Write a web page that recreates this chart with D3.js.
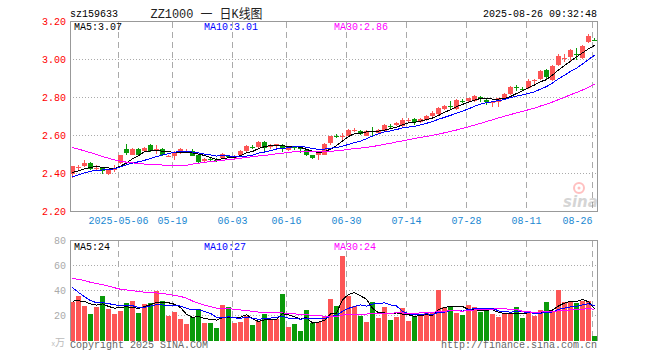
<!DOCTYPE html>
<html><head><meta charset="utf-8">
<script src="https://cdn.jsdelivr.net/npm/d3@7/dist/d3.min.js"></script>
<style>
html,body{margin:0;padding:0;background:#fff;}
svg{display:block;}
text{font-family:"Liberation Mono","DejaVu Sans Mono",monospace;}
</style></head>
<body><svg id="c" width="660" height="360"></svg>
<script>
// ---------- data ----------
const dates = [
"04-21","04-22","04-23","04-24","04-25","04-28","04-29","04-30",
"05-06","05-07","05-08","05-09","05-12","05-13","05-14","05-15","05-16","05-19","05-20","05-21","05-22","05-23","05-26","05-27","05-28","05-29","05-30",
"06-03","06-04","06-05","06-06","06-09","06-10","06-11","06-12","06-13","06-16","06-17","06-18","06-19","06-20","06-23","06-24","06-25","06-26","06-27","06-30",
"07-01","07-02","07-03","07-04","07-07","07-08","07-09","07-10","07-11","07-14","07-15","07-16","07-17","07-18","07-21","07-22","07-23","07-24","07-25","07-28","07-29","07-30","07-31",
"08-01","08-04","08-05","08-06","08-07","08-08","08-11","08-12","08-13","08-14","08-15","08-18","08-19","08-20","08-21","08-22","08-25","08-26"];
const openP = [2.40,2.432,2.44,2.455,2.428,2.43,2.40,2.42,2.455,2.53,2.50,2.53,2.52,2.55,2.528,2.53,2.488,2.49,2.51,2.515,2.52,2.495,2.465,2.477,2.472,2.48,2.492,2.483,2.495,2.52,
2.542,2.54,2.565,2.538,2.545,2.55,2.525,2.537,2.532,2.525,2.495,2.495,2.50,2.56,2.597,2.595,2.60,2.628,2.625,2.60,2.622,2.615,2.625,2.652,2.655,2.65,2.678,2.685,2.67,2.68,
2.705,2.715,2.74,2.757,2.74,2.782,2.78,2.78,2.802,2.785,2.773,2.775,2.80,2.82,2.857,2.847,2.85,2.888,2.895,2.945,2.89,2.97,3.008,3.015,3.03,3.01,3.09,3.105];
const highP = [2.44,2.445,2.47,2.46,2.445,2.435,2.425,2.445,2.50,2.555,2.535,2.535,2.54,2.555,2.55,2.535,2.50,2.52,2.535,2.53,2.53,2.50,2.48,2.485,2.48,2.51,2.50,2.50,2.525,2.55,
2.55,2.57,2.57,2.555,2.555,2.555,2.54,2.54,2.535,2.53,2.50,2.515,2.56,2.60,2.61,2.615,2.635,2.64,2.63,2.63,2.645,2.635,2.66,2.66,2.67,2.69,2.69,2.69,2.69,2.71,
2.73,2.75,2.76,2.78,2.79,2.79,2.80,2.815,2.81,2.80,2.78,2.80,2.825,2.86,2.865,2.855,2.895,2.90,2.945,2.95,2.97,3.03,3.03,3.055,3.06,3.075,3.135,3.115];
const lowP = [2.375,2.42,2.435,2.42,2.415,2.40,2.39,2.41,2.45,2.495,2.495,2.49,2.515,2.515,2.505,2.49,2.485,2.47,2.505,2.51,2.49,2.455,2.46,2.465,2.46,2.475,2.48,2.47,2.49,2.515,
2.53,2.535,2.515,2.53,2.53,2.515,2.52,2.525,2.51,2.49,2.475,2.47,2.495,2.55,2.585,2.575,2.595,2.62,2.605,2.595,2.60,2.61,2.62,2.64,2.65,2.645,2.67,2.655,2.665,2.675,
2.70,2.71,2.735,2.735,2.735,2.77,2.775,2.775,2.775,2.76,2.75,2.75,2.795,2.815,2.835,2.835,2.845,2.87,2.89,2.90,2.885,2.965,2.985,2.99,3.00,3.005,3.085,3.095];
const closeP = [2.44,2.435,2.455,2.425,2.43,2.415,2.42,2.43,2.50,2.51,2.53,2.50,2.535,2.52,2.53,2.50,2.49,2.51,2.53,2.52,2.49,2.46,2.475,2.475,2.47,2.505,2.49,2.485,2.52,2.545,
2.54,2.565,2.535,2.55,2.555,2.53,2.54,2.535,2.53,2.50,2.48,2.51,2.555,2.595,2.595,2.60,2.63,2.63,2.61,2.625,2.62,2.63,2.655,2.65,2.665,2.68,2.68,2.67,2.685,2.705,
2.72,2.745,2.755,2.755,2.785,2.78,2.80,2.81,2.80,2.775,2.775,2.80,2.82,2.855,2.855,2.845,2.885,2.89,2.94,2.91,2.965,3.02,3.01,3.05,3.025,3.07,3.125,3.10];
// 29 closes before the first visible day (feed the moving averages at the left edge)
const priorClose = [2.70,2.72,2.71,2.73,2.72,2.70,2.69,2.70,2.67,2.64,2.62,2.60,2.58,2.57,2.56,2.55,2.52,2.51,2.50,2.30,2.33,2.35,2.34,2.38,2.395,2.39,2.40,2.39,2.405];
// volume, 万
const volume = [30.7,35.5,27.7,21,27,35.5,25,21,23.5,30,32,22,29,30,40,32,20,23,17,13,18.7,25,14,14,10,28.3,26.7,14,14.7,19.5,
12.3,15.5,21,17,17,37,10.7,13,7.5,24.3,14,14.7,20,33,27.5,67.5,36,27.5,20,14.7,30.7,17.9,26.7,16.3,18.7,25.9,15.5,20,20,21.9,
22.4,40.3,26.7,26.7,21.9,20.3,28.3,26.7,22.9,23.5,21,18.7,21.6,21.6,26.7,17.9,23.5,19.5,24.3,30.7,23.5,40.3,30.7,31.5,29.9,31.5,31.5,3.5];
const priorVolume = [55,58,62,60,57,63,60,59,48,46,44,45,43,47,44,44,42,45,52,90,75,62,52,43.7,33.8,34,31,30,31.8];
const priceTicks = [2.20,2.40,2.60,2.80,3.00,3.20];
const volTicks = [20,40,60,80];
const dateTicks = ["05-06","05-19","06-03","06-16","06-30","07-14","07-28","08-11","08-26"];
const dateTickLabels = ["2025-05-06","05-19","06-03","06-16","06-30","07-14","07-28","08-11","08-26"];
const maPeriods = [5,10,30];
const maColors = ["#000000","#0000ff","#ff00ff"];
const priceMaLabels = ["MA5:3.07","MA10:3.01","MA30:2.86"];
const volMaLabels = ["MA5:24","MA10:27","MA30:24"];

// ---------- helpers ----------
function movingAvg(prior, vals, n){
  const all = prior.concat(vals), off = prior.length;
  return vals.map((v,i)=>d3.mean(all.slice(off+i-n+1, off+i+1)));
}
const RED="#fd5656", GREEN="#0a9a0a";
const svg = d3.select("#c");
const L=70, R=598;
const x = d3.scaleBand().domain(dates).range([L,R]);
const y = d3.scaleLinear().domain([2.2,3.2]).range([211.5,21.5]);
const yv = d3.scaleLinear().domain([0,80]).range([340.5,240.5]);
const isUp = i => closeP[i] >= openP[i];

// ---------- header ----------
svg.append("text").attr("x",70).attr("y",17).attr("font-size",10).attr("fill","#000").text("sz159633");
svg.append("text").attr("x",150.5).attr("y",18).attr("font-size",13).attr("fill","#222")
  .attr("textLength",112).attr("lengthAdjust","spacingAndGlyphs")
  .style("font-family","'Liberation Mono','Noto Sans CJK SC',monospace").text("ZZ1000 一 日K线图");
svg.append("text").attr("x",597).attr("y",17).attr("font-size",10).attr("text-anchor","end").attr("fill","#000").text("2025-08-26 09:32:48");

// ---------- grids ----------
function grids(top,bottom,hvals,scale){
  const g = svg.append("g").attr("shape-rendering","crispEdges");
  g.selectAll("line.h").data(hvals).join("line")
    .attr("x1",L).attr("x2",R).attr("y1",d=>Math.round(scale(d)-0.5)+0.5).attr("y2",d=>Math.round(scale(d)-0.5)+0.5)
    .attr("stroke","#aaa").attr("stroke-dasharray","1,2");
  g.selectAll("line.v").data(dateTicks).join("line")
    .attr("x1",d=>x(d)+0.5).attr("x2",d=>x(d)+0.5).attr("y1",top).attr("y2",bottom)
    .attr("stroke","#aaa").attr("stroke-dasharray","6,4");
}
grids(21.5,211.5,[2.4,2.6,2.8,3.0],y);
grids(240.5,340.5,[20,40,60],yv);

// watermark
const wm = svg.append("g").attr("opacity",0.3);
wm.append("circle").attr("cx",579).attr("cy",188).attr("r",5).attr("fill","none").attr("stroke","#f33").attr("stroke-width",2);
wm.append("circle").attr("cx",579).attr("cy",188).attr("r",1.5).attr("fill","#f33");
wm.append("text").attr("x",563).attr("y",207).attr("font-size",15).attr("font-weight","bold").attr("font-style","italic")
  .attr("fill","#777").style("font-family","'DejaVu Sans',sans-serif").text("sina");

// ---------- candles ----------
const cg = svg.append("g").attr("shape-rendering","crispEdges");
cg.selectAll("line.w").data(dates).join("line")
  .attr("x1",d=>x(d)+2.5).attr("x2",d=>x(d)+2.5)
  .attr("y1",(d,i)=>y(highP[i])).attr("y2",(d,i)=>y(lowP[i]))
  .attr("stroke",(d,i)=>isUp(i)?RED:GREEN);
cg.selectAll("rect.b").data(dates).join("rect")
  .attr("x",d=>x(d)).attr("width",5)
  .attr("y",(d,i)=>Math.min(y(openP[i]),y(closeP[i])))
  .attr("height",(d,i)=>Math.max(1,Math.abs(y(openP[i])-y(closeP[i]))))
  .attr("fill",(d,i)=>isUp(i)?RED:GREEN);

// price MAs
maPeriods.forEach((n,k)=>{
  const ma = movingAvg(priorClose, closeP, n);
  svg.append("path").datum(ma).attr("fill","none").attr("stroke",maColors[k]).attr("stroke-width",1)
    .attr("shape-rendering","crispEdges")
    .attr("d",d3.line().x((v,i)=>x(dates[i])+2.5).y(v=>y(v)));
});

// ---------- volume ----------
const vg = svg.append("g").attr("shape-rendering","crispEdges");
vg.selectAll("rect").data(volume).join("rect")
  .attr("x",(v,i)=>x(dates[i])).attr("width",5)
  .attr("y",v=>yv(v)).attr("height",v=>341-yv(v))
  .attr("fill",(v,i)=>isUp(i)?RED:GREEN);
maPeriods.forEach((n,k)=>{
  const ma = movingAvg(priorVolume, volume, n);
  svg.append("path").datum(ma).attr("fill","none").attr("stroke",maColors[k]).attr("stroke-width",1)
    .attr("shape-rendering","crispEdges")
    .attr("d",d3.line().x((v,i)=>x(dates[i])+2.5).y(v=>yv(v)));
});

// ---------- frames ----------
svg.append("rect").attr("x",70.5).attr("y",21.5).attr("width",527).attr("height",190)
  .attr("fill","none").attr("stroke","#999").attr("shape-rendering","crispEdges");
svg.append("path").attr("d","M70.5,341V240.5H597.5V341").attr("fill","none").attr("stroke","#999").attr("shape-rendering","crispEdges");

// ---------- axes ----------
const ay = svg.append("g").attr("transform","translate(70,0)")
  .call(d3.axisLeft(y).tickValues(priceTicks).tickFormat(d3.format(".2f")).tickSize(0).tickPadding(4));
ay.select(".domain").remove();
ay.selectAll("text").attr("fill","#ff0000").attr("font-size",10).style("font-family","'Liberation Mono',monospace");

const av = svg.append("g").attr("transform","translate(70,0)")
  .call(d3.axisLeft(yv).tickValues(volTicks).tickSize(0).tickPadding(4));
av.select(".domain").remove();
av.selectAll("text").attr("fill","#aaa").attr("font-size",10).style("font-family","'Liberation Mono',monospace");

const ax = svg.append("g").attr("transform","translate(0,211)")
  .call(d3.axisBottom(x).tickValues(dateTicks).tickFormat((d,i)=>dateTickLabels[i]).tickSize(0).tickPadding(6));
ax.select(".domain").remove();
ax.selectAll(".tick").attr("transform",d=>`translate(${x(d)+0.5},0)`);
ax.selectAll("text").attr("fill","#1b88d2").attr("font-size",10).style("font-family","'Liberation Mono',monospace");
ax.selectAll("text").filter(d=>d===dateTicks[dateTicks.length-1]).attr("text-anchor","end");

// ---------- MA legends ----------
const legendX = [74,204,334];
priceMaLabels.forEach((t,k)=>svg.append("text").attr("x",legendX[k]).attr("y",30).attr("font-size",10).attr("fill",maColors[k]).text(t));
volMaLabels.forEach((t,k)=>svg.append("text").attr("x",legendX[k]).attr("y",250).attr("font-size",10).attr("fill",maColors[k]).text(t));

// ---------- footer ----------
svg.append("text").attr("x",65).attr("y",346).attr("text-anchor","end").attr("font-size",10).attr("fill","#bbb")
  .style("font-family","'Noto Sans CJK SC',sans-serif").html('<tspan font-size="7">x</tspan>万');
svg.append("text").attr("x",70).attr("y",348).attr("font-size",10).attr("fill","#666").text("Copyright 2025 SINA.COM");
svg.append("text").attr("x",597).attr("y",348).attr("text-anchor","end").attr("font-size",10).attr("fill","#666").text("http://finance.sina.com.cn");
</script></body></html>
